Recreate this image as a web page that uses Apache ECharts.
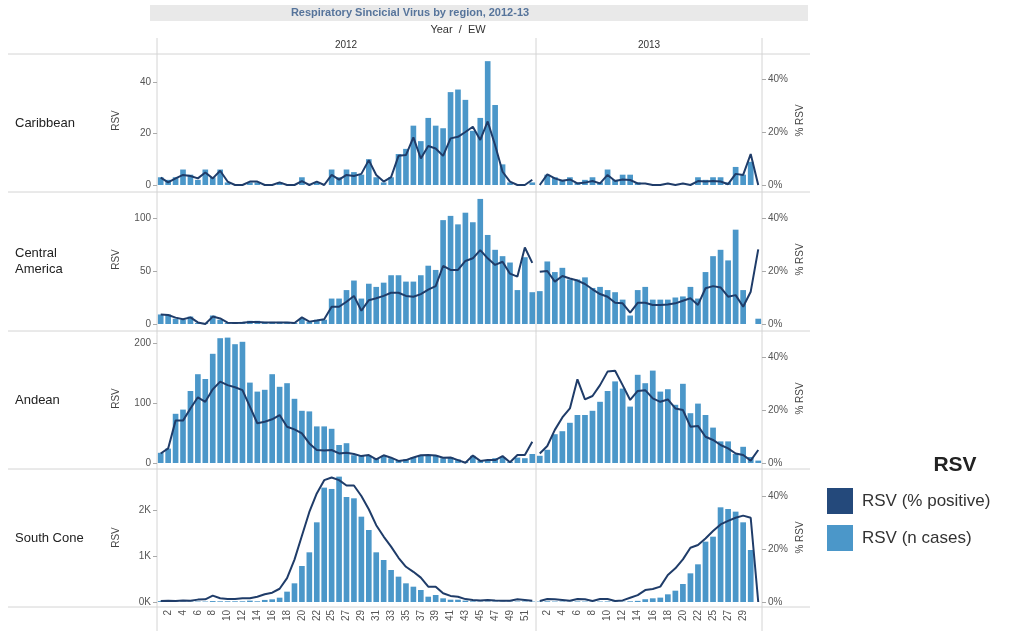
<!DOCTYPE html>
<html>
<head>
<meta charset="utf-8">
<script src="https://cdn.jsdelivr.net/npm/echarts@6/dist/echarts.min.js"></script>
<style>
  html, body { margin: 0; padding: 0; background: #ffffff; }
  #chart { width: 1013px; height: 631px; }
</style>
</head>
<body>
<div id="chart"></div>
<script>
// Epidemiological weeks shown per year (week 23 has no report)
const weeks2012 = ['1','2','3','4','5','6','7','8','9','10','11','12','13','14','15','16','17','18','19','20','21','22',
  '24','25','26','27','28','29','30','31','32','33','34','35','36','37','38','39','40','41','42','43','44','45','46','47','48','49','50','51','52'];
const weeks2013 = ['1','2','3','4','5','6','7','8','9','10','11','12','13','14','15','16','17','18','19','20','21','22',
  '24','25','26','27','28','29','30','31'];

const regionNames = ['Caribbean', 'Central\nAmerica', 'Andean', 'South Cone'];

// RSV cases (n) and RSV % positive, per region and year
const caribbeanCases2012 = [3,2,3,6,4,2,6,3,6,1,0,0,1,1,0,0,1,0,0,3,0,1,0,6,3,6,5,4,10,3,1,3,12,14,23,17,26,23,22,36,37,33,21,26,48,31,8,1,0,0,1];
const caribbeanPct2012 = [2.8,1,2.5,3.8,3.4,2.5,4.7,2.5,5.4,1.3,0,0,1.3,1.3,0,0,1,0,0,1.5,0,1.3,0,3.8,2,3.8,3.4,4.2,9.4,3.8,1.3,3,11,11.3,18,10,14.7,13.8,11,17.6,18.2,20,22,17,24,15,5,1.3,0,0,2];
const caribbeanCases2013 = [0,4,3,2,3,1,2,3,1,6,2,4,4,1,0,0,0,0,0,0,0,3,2,3,3,1,7,4,9,0];
const caribbeanPct2013 = [0,4,2.5,1.6,2.1,0.6,0.9,1.5,0.6,3.8,1.5,2.1,1.9,0.6,0.6,0,0,0.6,0,0.6,0,1.5,1.3,1.5,1.3,0.3,4.2,3.8,11.7,0];

const centralCases2012 = [9,9,5,4,7,1,1,8,4,1,1,2,3,3,2,2,2,2,1,5,2,4,4,24,24,32,41,24,38,35,39,46,46,40,40,46,55,51,98,102,94,105,96,118,84,70,64,58,32,63,30];
const centralPct2012 = [3.6,3.4,2.4,1.8,2.5,0.6,0,2.8,2.1,0.5,0.4,0.5,0.8,0.8,0.6,0.6,0.6,0.6,0.4,2.5,0.9,1.3,1.8,6.5,6.5,8.4,10.6,5,9,9.7,10.6,11.8,11.8,10.6,10.3,11.3,13,14.3,21.9,20.4,20.4,23.8,24.8,27.9,24.8,22.3,23.5,19,17.9,28.9,23.1];
const centralCases2013 = [31,59,49,53,42,42,44,34,35,32,30,23,8,32,35,23,23,23,25,26,35,24,49,64,70,60,89,32,0,5];
const centralPct2013 = [19.7,20,16,18.1,17.2,16.4,15.1,13.1,11.3,10.3,8,7.8,4.3,8,8,7.2,7.2,7.4,7.8,8.8,9.7,7.2,13.5,14.3,13.8,10.3,10.9,6.5,12.2,28.2];

const andeanCases2012 = [17,24,82,89,120,148,140,182,208,209,198,202,134,119,122,148,127,133,107,87,86,61,61,57,30,33,13,12,12,8,12,8,4,6,10,13,13,12,8,10,6,2,12,4,5,8,10,2,9,8,15];
const andeanPct2012 = [3.6,5.5,16,16,20.6,24.8,23.1,27.8,30.7,29.4,28.6,27.5,21.3,15,15.6,16.5,18.1,13.7,12.7,11.2,7.4,4.9,4.7,4.9,3.6,3.9,3.4,2.6,3,1.4,2.9,2,0.8,1.1,2.1,2.9,3,2.8,2,2.1,1.1,0.1,2.8,0.8,1.1,1.1,2.6,0.3,3,3,8];
const andeanCases2013 = [12,22,48,53,67,80,80,87,102,120,136,124,94,147,133,154,119,123,97,132,83,99,80,59,36,36,15,27,10,4];
const andeanPct2013 = [3.6,6.4,12.5,17.2,20.6,31.6,24,25.3,29.4,34.5,34.8,29.4,23.8,27.2,27.5,24.4,23.1,24,20.6,20,13.7,14,9.9,8.7,6.8,5.5,3.6,3,0.9,4.9];

const southCases2012 = [20,15,10,10,10,10,10,20,15,15,15,15,30,15,45,58,94,225,406,783,1080,1732,2486,2457,2725,2283,2254,1855,1565,1080,913,696,551,406,333,261,116,152,80,50,50,30,15,10,10,10,10,10,10,10,10];
const southPct2012 = [0.4,0.5,0.4,0.6,0.5,0.9,1,2.4,1.4,1.1,1.1,1.4,1.4,2,2.9,3.5,5,9,16,25,34,41,46,47,46,44,44,40,35,29,24.7,20.9,16.7,13.3,11.4,9.2,5.8,5.8,3.3,2.3,2,1.1,0.8,0.6,0.8,0.6,0.5,0.5,1,0.8,0.5];
const southCases2013 = [10,15,10,10,8,12,10,8,10,12,10,8,15,25,60,80,95,167,246,391,623,819,1312,1420,2058,2022,1964,1732,1130,0];
const southPct2013 = [0.4,1.1,1,0.8,0.5,1.1,1,0.4,1.1,1.1,0.4,0.6,1.6,2.6,4.5,4.9,5.8,10.2,12.7,16.1,20.5,21.5,24,26.8,29.3,30.6,31.8,32.6,31.8,0];

// Axis tick labels
const caseTicks = [[0, 20, 40], [0, 50, 100], [0, 100, 200], [0, 1000, 2000]];
const pctTicks = [0, 20, 40];

const cases = [
  [caribbeanCases2012, caribbeanCases2013],
  [centralCases2012, centralCases2013],
  [andeanCases2012, andeanCases2013],
  [southCases2012, southCases2013]
];
const pct = [
  [caribbeanPct2012, caribbeanPct2013],
  [centralPct2012, centralPct2013],
  [andeanPct2012, andeanPct2013],
  [southPct2012, southPct2013]
];

// Pane layout
const colLeft = [157, 536];
const colWidth = [379, 226];
const rowZero = [185, 324, 463, 602];
const paneH = 129;
const caseMax = [50, 121.7, 215, 2804];
const pctMax = 48.7;
const rowLines = [54, 192, 331, 469, 607];

const BAR = '#4b97c9';
const LINE = '#1f3c69';
const FONT = 'Liberation Sans, Arial, sans-serif';

const grids = [], xAxes = [], yAxes = [], series = [];
for (let r = 0; r < 4; r++) {
  for (let c = 0; c < 2; c++) {
    const gi = r * 2 + c;
    const cats = c === 0 ? weeks2012 : weeks2013;
    grids.push({ left: colLeft[c], width: colWidth[c], top: rowZero[r] - paneH, height: paneH });
    xAxes.push({
      type: 'category', gridIndex: gi, data: cats, boundaryGap: true,
      axisLine: { show: false }, axisTick: { show: false }, splitLine: { show: false },
      axisLabel: {
        show: r === 3, rotate: 90, fontSize: 10, color: '#555', fontFamily: FONT, margin: 8,
        interval: (idx) => idx % 2 === 1 && idx < cats.length - 1
      }
    });
    const fmt = r === 3 ? (v) => (v / 1000) + 'K' : (v) => String(v);
    yAxes.push({
      type: 'value', gridIndex: gi, min: 0, max: caseMax[r], position: 'left',
      axisLine: { show: false }, splitLine: { show: false },
      axisTick: { show: c === 0, length: 4, customValues: caseTicks[r], lineStyle: { color: '#aaa' } },
      axisLabel: { show: c === 0, customValues: caseTicks[r], formatter: fmt, fontSize: 10, color: '#555', fontFamily: FONT, margin: 6 },
      name: c === 0 ? 'RSV' : '', nameLocation: 'middle', nameRotate: 90, nameGap: 36,
      nameTextStyle: { fontSize: 10, color: '#444', fontFamily: FONT }
    });
    yAxes.push({
      type: 'value', gridIndex: gi, min: 0, max: pctMax, position: 'right',
      axisLine: { show: false }, splitLine: { show: false },
      axisTick: { show: c === 1, length: 4, customValues: pctTicks, lineStyle: { color: '#aaa' } },
      axisLabel: { show: c === 1, customValues: pctTicks, formatter: '{value}%', fontSize: 10, color: '#555', fontFamily: FONT, margin: 6 },
      name: c === 1 ? '% RSV' : '', nameLocation: 'middle', nameRotate: 90, nameGap: 33,
      nameTextStyle: { fontSize: 10, color: '#444', fontFamily: FONT }
    });
    series.push({
      type: 'bar', name: 'RSV (n cases)', xAxisIndex: gi, yAxisIndex: gi * 2,
      data: cases[r][c], barWidth: '76%', itemStyle: { color: BAR }, silent: true
    });
    series.push({
      type: 'line', name: 'RSV (% positive)', xAxisIndex: gi, yAxisIndex: gi * 2 + 1,
      data: pct[r][c], symbol: 'none', z: 3,
      lineStyle: { color: LINE, width: 2 }, itemStyle: { color: '#24497b' }, silent: true
    });
  }
}

// Frame lines, headers and row labels
const graphics = [
  { type: 'rect', shape: { x: 150, y: 5, width: 658, height: 16 }, style: { fill: '#e9e9e9' }, silent: true },
  { type: 'text', x: 410, y: 13, style: { text: 'Respiratory Sincicial Virus by region, 2012-13', fill: '#56749b',
      font: 'bold 11px ' + FONT, align: 'center', verticalAlign: 'middle' } },
  { type: 'text', x: 458, y: 30, style: { text: 'Year  /  EW', fill: '#333', font: '11px ' + FONT, align: 'center', verticalAlign: 'middle' } },
  { type: 'text', x: 346, y: 45, style: { text: '2012', fill: '#333', font: '10px ' + FONT, align: 'center', verticalAlign: 'middle' } },
  { type: 'text', x: 649, y: 45, style: { text: '2013', fill: '#333', font: '10px ' + FONT, align: 'center', verticalAlign: 'middle' } }
];
rowLines.forEach((y) => {
  graphics.push({ type: 'line', shape: { x1: 8, y1: y, x2: 810, y2: y }, style: { stroke: '#d4d4d4', lineWidth: 1 }, silent: true });
});
[157, 536, 762].forEach((x) => {
  graphics.push({ type: 'line', shape: { x1: x, y1: 38, x2: x, y2: 631 }, style: { stroke: '#d4d4d4', lineWidth: 1 }, silent: true });
});
regionNames.forEach((name, r) => {
  graphics.push({ type: 'text', x: 15, y: (rowLines[r] + rowLines[r + 1]) / 2, style: {
    text: name, fill: '#222', font: '13px ' + FONT, verticalAlign: 'middle', lineHeight: 16 } });
});
graphics.push({ type: 'text', x: 955, y: 465, style: { text: 'RSV', fill: '#222', font: 'bold 21px ' + FONT, align: 'center', verticalAlign: 'middle' } });

const chart = echarts.init(document.getElementById('chart'), null, { renderer: 'canvas' });
chart.setOption({
  animation: false,
  backgroundColor: '#ffffff',
  grid: grids,
  xAxis: xAxes,
  yAxis: yAxes,
  series: series,
  legend: {
    orient: 'vertical', left: 822, top: 483, itemWidth: 26, itemHeight: 26, itemGap: 11,
    selectedMode: false,
    textStyle: { fontSize: 17, color: '#333', fontFamily: FONT, padding: [0, 0, 0, 4] },
    data: [
      { name: 'RSV (% positive)', icon: 'rect', itemStyle: { color: '#24497b' } },
      { name: 'RSV (n cases)', icon: 'rect', itemStyle: { color: BAR } }
    ]
  },
  graphic: graphics
});
</script>
</body>
</html>
